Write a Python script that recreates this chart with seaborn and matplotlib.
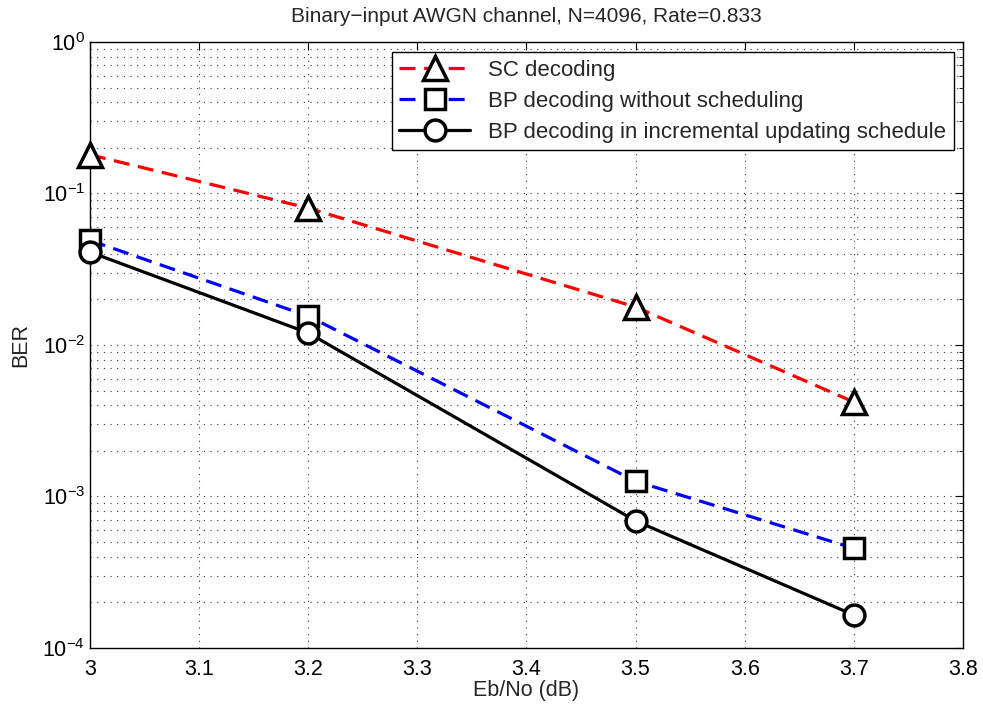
import numpy as np
import pandas as pd
import matplotlib
matplotlib.use("Agg")
import matplotlib.pyplot as plt
import seaborn as sns
from matplotlib.ticker import LogLocator, NullFormatter, MultipleLocator, FormatStrFormatter

sns.set_style("white")
plt.rcParams['font.family'] = ['Liberation Sans', 'DejaVu Sans']
plt.rcParams['mathtext.fontset'] = 'custom'
plt.rcParams['mathtext.rm'] = 'Liberation Sans'

ebno = [3.0, 3.2, 3.5, 3.7]
ber_sc = [0.18, 0.080, 0.0178, 0.0042]
ber_bp = [0.049, 0.0155, 0.00126, 0.000455]
ber_bp_inc = [0.041, 0.0120, 0.00069, 0.000165]
labels = ["SC decoding", "BP decoding without scheduling",
          "BP decoding in incremental updating schedule"]

fig = plt.figure(figsize=(9.83, 7.13), dpi=100)
ax = fig.add_axes([0.0916, 0.0912, 0.888, 0.850])

styles = [
    (ber_sc, 'red', (0, (5, 2.7)), '^', 17),
    (ber_bp, 'blue', (0, (5, 2.7)), 's', 14),
    (ber_bp_inc, 'black', '-', 'o', 15),
]
for (vals, col, ls, mk, ms), lab in zip(styles, labels):
    df = pd.DataFrame({"x": ebno, "y": vals})
    sns.lineplot(data=df, x="x", y="y", ax=ax, color=col, linestyle=ls,
                 linewidth=2.3, marker=mk, markersize=ms, markerfacecolor='white',
                 markeredgecolor='black', markeredgewidth=2.5, label=lab,
                 clip_on=False, zorder=3)

ax.set_yscale('log')
ax.set_xlim(3.0, 3.8)
ax.set_ylim(1e-4, 1)
ax.xaxis.set_major_locator(MultipleLocator(0.1))
ax.xaxis.set_major_formatter(FormatStrFormatter('%g'))
ax.yaxis.set_major_locator(LogLocator(base=10, numticks=10))
ax.yaxis.set_minor_locator(LogLocator(base=10, subs=np.arange(2, 10), numticks=20))
ax.yaxis.set_minor_formatter(NullFormatter())

gstyle = dict(linestyle=(0, (1, 5)), color='black', linewidth=0.8, alpha=0.8)
ax.grid(True, which='major', **gstyle)
ax.grid(True, which='minor', axis='y', **gstyle)

ax.tick_params(axis='both', which='both', direction='in', top=True, right=True,
               labelsize=15.5, colors='black')
ax.tick_params(which='major', length=6, width=0.8)
ax.tick_params(which='minor', length=3, width=0.6)
ax.tick_params(axis='x', pad=8)
for s in ax.spines.values():
    s.set_color('black')
    s.set_linewidth(1.0)

ax.set_title("Binary\u2212input AWGN channel, N=4096, Rate=0.833", fontsize=15, pad=14)
ax.set_xlabel("Eb/No (dB)", fontsize=15.5, labelpad=0)
ax.set_ylabel("BER", fontsize=15.5, labelpad=8)

leg = ax.legend(loc='upper right', bbox_to_anchor=(0.9897, 0.9835), borderaxespad=0,
                fontsize=16, frameon=True, fancybox=False, edgecolor='black',
                framealpha=1, handlelength=3.2, borderpad=0.35, labelspacing=0.45)
leg.get_frame().set_linewidth(1.0)

fig.savefig("out.png", dpi=100)
